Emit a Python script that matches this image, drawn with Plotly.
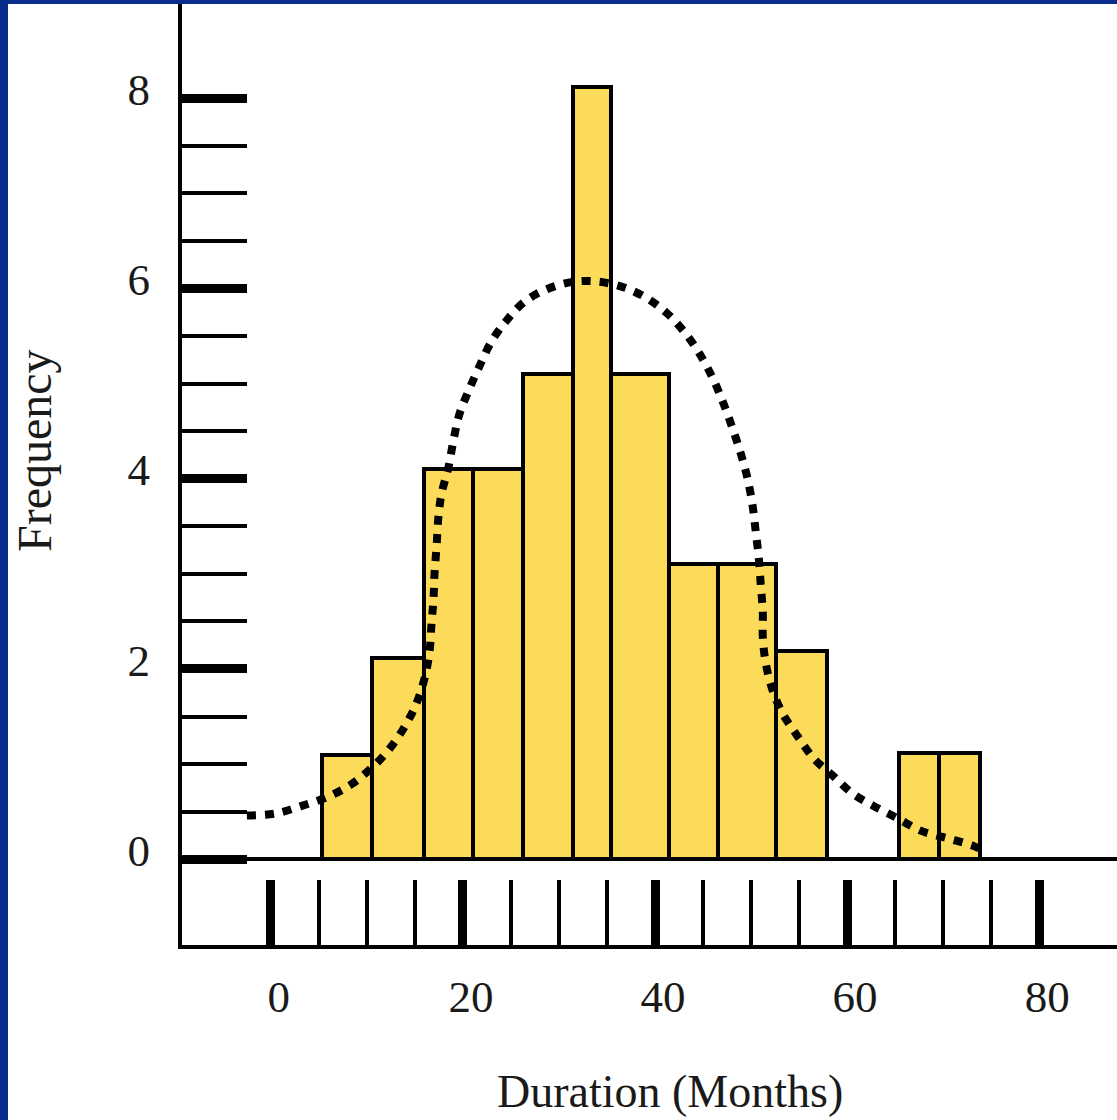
import plotly.graph_objects as go

# ---- data ----
bin_left = [5.30, 10.49, 15.90, 21.09, 26.29, 31.48, 35.43, 41.45, 46.55, 52.57, 65.35, 69.61]
bin_right = [10.49, 15.90, 21.09, 26.29, 31.48, 35.43, 41.45, 46.55, 52.57, 57.87, 69.61, 73.87]
frequency = [1.10, 2.11, 4.10, 4.10, 5.10, 8.12, 5.10, 3.10, 3.10, 2.19, 1.12, 1.12]

curve_x = [-2.49, 0.42, 3.22, 6.03, 8.42, 10.70, 12.36, 13.92, 15.17, 16.00, 16.52, 16.73,
           16.94, 17.04, 17.25, 17.45, 17.77, 18.49, 19.01, 19.64, 20.57, 21.71, 22.96,
           24.52, 26.39, 28.68, 31.48, 34.18, 36.78, 39.27, 41.35, 43.22, 44.78, 46.13,
           47.17, 48.10, 48.94, 49.66, 50.18, 50.49, 50.81, 51.01, 51.22, 51.22, 51.53,
           52.26, 53.30, 54.86, 56.52, 58.49, 60.57, 62.75, 65.25, 67.64, 70.44, 73.14, 74.18]
curve_y = [0.46, 0.48, 0.56, 0.66, 0.79, 0.98, 1.16, 1.39, 1.64, 1.90, 2.18, 2.48,
           2.74, 3.00, 3.28, 3.60, 3.84, 4.12, 4.40, 4.68, 4.92, 5.18, 5.44,
           5.66, 5.86, 5.99, 6.07, 6.07, 6.01, 5.89, 5.73, 5.52, 5.29, 5.03,
           4.78, 4.52, 4.26, 3.99, 3.70, 3.44, 3.16, 2.88, 2.60, 2.34, 2.06,
           1.77, 1.53, 1.29, 1.06, 0.88, 0.69, 0.56, 0.43, 0.30, 0.22, 0.14, 0.09]

x_major_ticks = [0, 20, 40, 60, 80]
x_minor_ticks = [5, 10, 15, 25, 30, 35, 45, 50, 55, 65, 70, 75]
y_major_ticks = [0, 2, 4, 6, 8]
y_minor_ticks = [0.5, 1, 1.5, 2.5, 3, 3.5, 4.5, 5, 5.5, 6.5, 7, 7.5]

x_title = "Duration (Months)"
y_title = "Frequency"

# ---- styling ----
NAVY = "#0a2c8c"
BAR_FILL = "#fddb5a"
FONT = "Liberation Serif"
TXT = "#1a1a1a"

centers = [(l + r) / 2 for l, r in zip(bin_left, bin_right)]
widths = [r - l for l, r in zip(bin_left, bin_right)]

fig = go.Figure()
fig.add_trace(go.Bar(
    x=centers, y=frequency, width=widths,
    marker=dict(color=BAR_FILL, line=dict(color="black", width=4)),
    showlegend=False, hoverinfo="skip",
))
fig.add_trace(go.Scatter(
    x=curve_x, y=curve_y, mode="lines",
    line=dict(color="black", width=8, dash="9px,9px", shape="spline"),
    showlegend=False, hoverinfo="skip",
))

W, H = 1117, 1120
ML, MR, MT, MB = 182, 0, 4, 175
pw, ph = W - ML - MR, H - MT - MB

# white page area inside the navy frame
fig.add_shape(type="rect", xref="paper", yref="paper",
              x0=(8 - ML) / pw, x1=1.0, y0=-(MB) / ph, y1=1.0,
              fillcolor="white", line=dict(width=0), layer="below")

# axis titles placed as annotations (positioned as in the reference)
fig.add_annotation(text=y_title, xref="paper", yref="paper",
                   x=(34 - ML) / pw, y=(H - MB - 451) / ph,
                   xanchor="center", yanchor="middle", textangle=-90,
                   showarrow=False, font=dict(family=FONT, size=48, color=TXT))
fig.add_annotation(text=x_title, xref="paper", yref="paper",
                   x=(670 - ML) / pw, y=(H - MB - 1119) / ph,
                   xanchor="center", yanchor="bottom",
                   showarrow=False, font=dict(family=FONT, size=46, color=TXT))

fig.update_layout(
    width=W, height=H,
    margin=dict(l=ML, r=MR, t=MT, b=MB, pad=0),
    paper_bgcolor=NAVY, plot_bgcolor="white",
    bargap=0,
    font=dict(family=FONT, color=TXT, size=44),
    xaxis=dict(
        range=[-9.25, 88.1], showgrid=False, zeroline=False,
        showline=True, linecolor="black", linewidth=4,
        tickmode="array", tickvals=x_major_ticks,
        ticks="inside", ticklen=65, tickwidth=9, tickcolor="black",
        minor=dict(tickmode="array", tickvals=x_minor_ticks, ticks="inside",
                   ticklen=65, tickwidth=4, tickcolor="black", showgrid=False),
        tickfont=dict(family=FONT, size=45, color=TXT),
        ticklabelstandoff=9, ticklabelshift=8,
    ),
    yaxis=dict(
        range=[-0.902, 8.99], showgrid=False,
        zeroline=True, zerolinecolor="black", zerolinewidth=4,
        showline=True, linecolor="black", linewidth=4,
        tickmode="array", tickvals=y_major_ticks,
        ticks="inside", ticklen=65, tickwidth=9, tickcolor="black",
        minor=dict(tickmode="array", tickvals=y_minor_ticks, ticks="inside",
                   ticklen=65, tickwidth=4, tickcolor="black", showgrid=False),
        tickfont=dict(family=FONT, size=45, color=TXT),
        ticklabelstandoff=19, ticklabelshift=-9,
    ),
)

fig.write_html("out.html", config={"displayModeBar": False},
               post_script="document.body.style.margin='0';document.body.style.background='%s';" % NAVY)
